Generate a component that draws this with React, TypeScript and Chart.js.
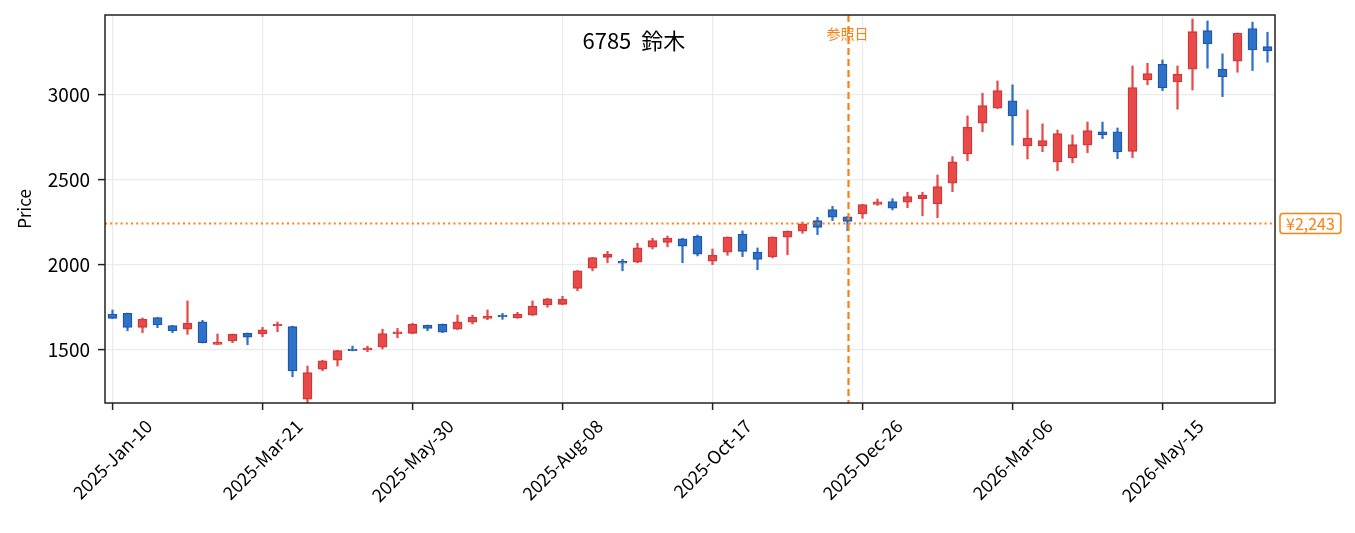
import { useEffect, useRef } from "react"
import { Chart, registerables } from "chart.js"

Chart.register(...registerables)

const FONT = "'Noto Sans CJK JP', 'Noto Sans', sans-serif"

// 週足 2025-01-10 から 78 本
const TICK_INDEX = [0, 10, 20, 30, 40, 50, 60, 70]
const TICK_LABELS = [
  "2025-Jan-10",
  "2025-Mar-21",
  "2025-May-30",
  "2025-Aug-08",
  "2025-Oct-17",
  "2025-Dec-26",
  "2026-Mar-06",
  "2026-May-15",
]
const PRICE_TICKS = [1500, 2000, 2500, 3000]

const OPEN = [
  1710, 1715, 1633, 1690, 1643, 1622, 1666, 1533, 1553, 1598,
  1594, 1643, 1637, 1212, 1387, 1441, 1506, 1500, 1516, 1596,
  1598, 1645, 1651, 1622, 1663, 1686, 1704, 1688, 1705, 1764,
  1768, 1862, 1980, 2044, 2021, 2015, 2103, 2132, 2153, 2167,
  2021, 2074, 2179, 2074, 2048, 2162, 2197, 2259, 2324, 2282,
  2298, 2355, 2371, 2367, 2388, 2357, 2479, 2651, 2831, 2919,
  2963, 2697, 2697, 2604, 2627, 2702, 2781, 2781, 2666, 3085,
  3177, 3073, 3148, 3374, 3148, 3195, 3386, 3280,
]
const HIGH = [
  1735, 1717, 1688, 1692, 1645, 1788, 1674, 1594, 1594, 1600,
  1633, 1664, 1640, 1406, 1440, 1498, 1523, 1523, 1622, 1627,
  1657, 1647, 1653, 1705, 1705, 1735, 1715, 1721, 1788, 1803,
  1815, 1967, 2044, 2079, 2032, 2126, 2156, 2169, 2156, 2175,
  2093, 2164, 2199, 2099, 2164, 2199, 2251, 2279, 2343, 2285,
  2355, 2386, 2388, 2426, 2426, 2527, 2635, 2874, 3007, 3079,
  3056, 2909, 2827, 2791, 2762, 2838, 2838, 2803, 3167, 3183,
  3202, 3167, 3443, 3431, 3238, 3361, 3424, 3365,
]
const LOW = [
  1685, 1613, 1602, 1631, 1602, 1592, 1541, 1532, 1543, 1531,
  1578, 1607, 1343, 1190, 1378, 1406, 1495, 1490, 1506, 1572,
  1596, 1613, 1602, 1620, 1653, 1678, 1680, 1686, 1703, 1751,
  1766, 1848, 1965, 2012, 1965, 2012, 2093, 2106, 2012, 2052,
  2001, 2056, 2048, 1971, 2040, 2059, 2185, 2177, 2259, 2200,
  2273, 2349, 2322, 2335, 2288, 2277, 2429, 2611, 2781, 2917,
  2703, 2621, 2664, 2552, 2599, 2658, 2740, 2623, 2629, 3057,
  3022, 2913, 3026, 3154, 2987, 3130, 3140, 3189,
]
const CLOSE = [
  1686, 1633, 1680, 1647, 1612, 1657, 1543, 1545, 1592, 1576,
  1619, 1651, 1377, 1367, 1437, 1496, 1496, 1512, 1596, 1606,
  1651, 1627, 1604, 1666, 1692, 1698, 1694, 1710, 1758, 1801,
  1798, 1965, 2042, 2062, 2009, 2100, 2142, 2156, 2109, 2062,
  2056, 2162, 2079, 2032, 2162, 2197, 2241, 2220, 2279, 2255,
  2353, 2369, 2332, 2400, 2408, 2459, 2605, 2807, 2934, 3022,
  2874, 2743, 2729, 2770, 2705, 2787, 2762, 2662, 3040, 3122,
  3038, 3118, 3368, 3296, 3103, 3359, 3261, 3255,
]

const REF_INDEX = 49
const REF_PRICE = 2243
const TITLE = "6785  鈴木"

const UP_FILL = "#e84a4a"
const UP_EDGE = "#d23636"
const DOWN_FILL = "#2e72c8"
const DOWN_EDGE = "#1f58aa"
const ORANGE = "#ff7f0e"
const GRID = "#ebebeb"

const WEEKS = OPEN.map((_, i) => String(i))
const isTick = (i: number) => TICK_INDEX.includes(i)

const overlay = {
  id: "overlay",
  afterDatasetsDraw(chart: Chart) {
    const { ctx, chartArea: a, scales } = chart
    const x = scales.x
    const y = scales.y
    ctx.save()

    // 基準日・基準価格
    ctx.save()
    ctx.beginPath()
    ctx.rect(a.left, a.top, a.right - a.left, a.bottom - a.top)
    ctx.clip()
    ctx.strokeStyle = ORANGE
    ctx.lineWidth = 2
    ctx.setLineDash([2, 3.2])
    const py = y.getPixelForValue(REF_PRICE)
    ctx.beginPath()
    ctx.moveTo(a.left, py)
    ctx.lineTo(a.right, py)
    ctx.stroke()
    ctx.lineWidth = 2.2
    ctx.setLineDash([7, 4])
    const px = x.getPixelForValue(REF_INDEX) + 1
    ctx.beginPath()
    ctx.moveTo(px, a.top)
    ctx.lineTo(px, a.bottom)
    ctx.stroke()
    ctx.restore()

    // 枠
    ctx.strokeStyle = "#222"
    ctx.lineWidth = 1.5
    ctx.strokeRect(a.left, a.top, a.right - a.left, a.bottom - a.top)

    // タイトル
    ctx.fillStyle = "#000"
    ctx.font = `22px ${FONT}`
    ctx.textAlign = "center"
    ctx.textBaseline = "middle"
    ctx.fillText(TITLE, a.left + (a.right - a.left) * 0.452, a.top + 26)

    ctx.fillStyle = ORANGE
    ctx.font = `14px ${FONT}`
    ctx.fillText("参照日", px - 1, a.top + 19)

    // 価格ラベル
    const label = "¥" + REF_PRICE.toLocaleString("en-US")
    ctx.font = `16px ${FONT}`
    const w = ctx.measureText(label).width + 12
    const bx = a.right + 5
    ctx.fillStyle = "#fff"
    ctx.strokeStyle = ORANGE
    ctx.lineWidth = 1.5
    ctx.beginPath()
    ctx.roundRect(bx, py - 10, w, 20, 3)
    ctx.fill()
    ctx.stroke()
    ctx.fillStyle = ORANGE
    ctx.textAlign = "left"
    ctx.fillText(label, bx + 6, py + 1)

    // x 目盛りラベル (45度, 中央寄せ)
    ctx.fillStyle = "#000"
    ctx.font = `18px ${FONT}`
    ctx.textAlign = "center"
    TICK_INDEX.forEach((v, i) => {
      const t = TICK_LABELS[i]
      const tw = ctx.measureText(t).width
      const h = (tw + 14) * Math.SQRT1_2
      const cx = x.getPixelForValue(v)
      const cy = a.bottom + 15 + h / 2
      ctx.save()
      ctx.translate(cx, cy)
      ctx.rotate(-Math.PI / 4)
      ctx.fillText(t, 0, 0)
      ctx.restore()
    })

    ctx.restore()
  },
}

export default function App() {
  const canvasRef = useRef<HTMLCanvasElement>(null)
  const chartRef = useRef<Chart | null>(null)

  useEffect(() => {
    document.body.style.margin = "0"
    if (!canvasRef.current) return

    const up = OPEN.map((o, i) => CLOSE[i] >= o)
    const fill = up.map((u) => (u ? UP_FILL : DOWN_FILL))
    const edge = up.map((u) => (u ? UP_EDGE : DOWN_EDGE))

    chartRef.current = new Chart(canvasRef.current, {
      type: "bar",
      data: {
        labels: WEEKS,
        datasets: [
          {
            label: "wick",
            data: OPEN.map((_, i) => [LOW[i], HIGH[i]]) as any,
            backgroundColor: fill,
            barThickness: 1.6,
            grouped: false,
            order: 2,
          },
          {
            label: "body",
            data: OPEN.map((o, i) => [o, CLOSE[i]]) as any,
            backgroundColor: fill,
            borderColor: edge,
            borderWidth: 1.3,
            borderSkipped: false,
            barThickness: 9,
            grouped: false,
            order: 1,
          },
        ],
      },
      options: {
        animation: false,
        responsive: true,
        maintainAspectRatio: false,
        layout: { padding: { left: 0, right: 80, top: 15, bottom: 0 } },
        plugins: {
          legend: { display: false },
          tooltip: { enabled: false },
        },
        scales: {
          x: {
            type: "category",
            offset: true,
            afterFit: (s: any) => {
              s.height = 130
              s.paddingLeft = 0
              s.paddingRight = 0
            },
            ticks: { display: false, autoSkip: false },
            border: { display: false },
            grid: {
              offset: false,
              color: (c: any) => (isTick(c.index) ? GRID : "rgba(0,0,0,0)"),
              lineWidth: 1.2,
              borderDash: [6, 3],
              tickColor: (c: any) => (isTick(c.index) ? "#222" : "rgba(0,0,0,0)"),
              tickLength: 7,
              tickWidth: 1.5,
              tickBorderDash: [],
            } as any,
          },
          y: {
            min: 1189,
            max: 3466,
            afterBuildTicks: (s: any) => {
              s.ticks = PRICE_TICKS.map((v) => ({ value: v }))
            },
            afterFit: (s: any) => {
              s.width = 105
              s.paddingTop = 0
              s.paddingBottom = 0
            },
            ticks: {
              color: "#000",
              font: { family: FONT, size: 19 },
              padding: 8,
              callback: (v: any) => String(v),
            },
            title: {
              display: true,
              text: "Price",
              color: "#000",
              font: { family: FONT, size: 17 },
              padding: { top: 14, bottom: 0 },
            },
            border: { display: false },
            grid: {
              color: GRID,
              lineWidth: 1.2,
              borderDash: [6, 3],
              tickColor: "#222",
              tickLength: 7,
              tickWidth: 1.5,
              tickBorderDash: [],
            } as any,
          },
        },
      },
      plugins: [overlay],
    })

    return () => {
      chartRef.current?.destroy()
      chartRef.current = null
    }
  }, [])

  return (
    <div style={{ width: 1355, height: 533, position: "relative", background: "#fff" }}>
      <canvas ref={canvasRef} />
    </div>
  )
}
